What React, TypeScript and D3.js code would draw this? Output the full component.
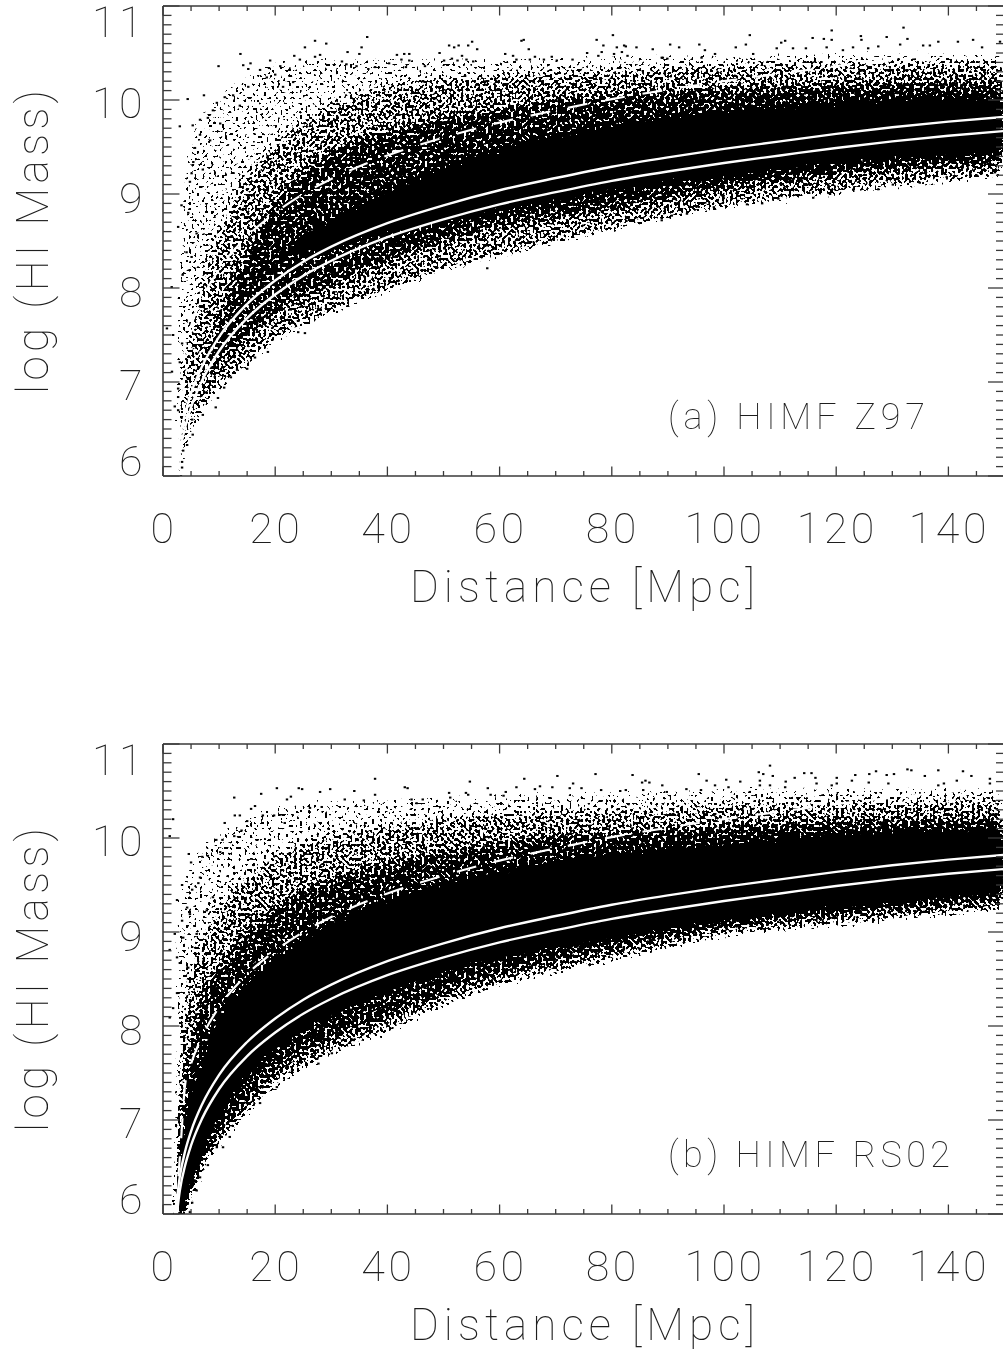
import React from "react";
import * as d3 from "d3";

// Curves (distance in Mpc, log HI mass)
const curveDistance = [2.2, 3, 4, 5, 7, 10, 15, 20, 25, 30, 40, 50, 60, 70, 80, 90, 100, 110, 120, 130, 140, 150];
const curveUpper = [6.0, 6.4, 6.68, 6.88, 7.17, 7.48, 7.83, 8.08, 8.28, 8.44, 8.69, 8.88, 9.04, 9.17, 9.29, 9.39, 9.48, 9.56, 9.64, 9.71, 9.77, 9.82];
const curveLower = [5.85, 6.25, 6.53, 6.73, 7.02, 7.33, 7.68, 7.93, 8.13, 8.29, 8.54, 8.73, 8.89, 9.02, 9.14, 9.24, 9.33, 9.41, 9.49, 9.56, 9.62, 9.67];
const curveDashed = [6.0, 6.6, 7.4, 7.6, 7.89, 8.2, 8.55, 8.8, 9.0, 9.16, 9.41, 9.6, 9.76, 9.89, 10.01, 10.11, 10.2, 10.28, 10.36, 10.43, 10.49, 10.55];

// Density-band edges of the point cloud
const bandDistance = [2, 3, 5, 7, 10, 15, 20, 30, 40, 50, 60, 80, 100, 120, 150];

const aLow = [5.5, 5.9, 6.38, 6.62, 6.87, 7.14, 7.4, 7.7, 7.93, 8.15, 8.3, 8.58, 8.82, 8.97, 9.17];
const aSparseTop = [7.9, 9.0, 9.7, 9.9, 10.1, 10.28, 10.43, 10.47, 10.47, 10.47, 10.47, 10.5, 10.52, 10.53, 10.53];
const aMediumTop = [5.8, 6.6, 7.5, 8.1, 8.6, 9.2, 9.55, 9.95, 10.14, 10.22, 10.26, 10.32, 10.36, 10.38, 10.4];
const aDenseTop = [5.7, 6.2, 6.7, 7.0, 7.6, 8.4, 8.9, 9.45, 9.65, 9.8, 9.9, 10.05, 10.1, 10.15, 10.2];
const aDenseLow = [5.7, 6.2, 6.7, 7.0, 7.2, 7.5, 7.75, 8.05, 8.3, 8.5, 8.65, 8.85, 9.05, 9.2, 9.35];
const aSolidTop = [6.2, 6.5, 7.0, 7.3, 7.6, 8.05, 8.3, 8.7, 9.0, 9.25, 9.45, 9.7, 9.85, 9.95, 10.0];
const aSolidLow = [6.2, 6.5, 7.0, 7.3, 7.6, 8.05, 8.3, 8.45, 8.6, 8.72, 8.85, 9.05, 9.2, 9.35, 9.45];

const bLow = [5.5, 5.72, 6.08, 6.36, 6.68, 7.0, 7.3, 7.66, 7.9, 8.18, 8.39, 8.66, 8.92, 9.04, 9.2];
const bSparseTop = [9.1, 9.5, 9.8, 9.95, 10.08, 10.25, 10.37, 10.43, 10.45, 10.47, 10.49, 10.52, 10.55, 10.57, 10.57];
const bMediumTop = [7.0, 8.0, 8.6, 8.95, 9.25, 9.6, 9.8, 10.02, 10.12, 10.2, 10.25, 10.3, 10.35, 10.38, 10.4];
const bDenseTop = [6.3, 7.0, 7.8, 8.3, 8.6, 9.0, 9.25, 9.55, 9.72, 9.85, 9.95, 10.05, 10.12, 10.17, 10.2];
const bDenseLow = [5.6, 5.9, 6.25, 6.55, 6.85, 7.2, 7.5, 7.85, 8.1, 8.35, 8.55, 8.82, 9.05, 9.18, 9.33];
const bSolidTop = [5.9, 6.4, 7.1, 7.5, 8.0, 8.4, 8.65, 9.05, 9.3, 9.47, 9.6, 9.8, 9.9, 10.0, 10.05];
const bSolidLow = [5.8, 6.0, 6.4, 6.75, 7.1, 7.5, 7.8, 8.15, 8.4, 8.6, 8.75, 8.98, 9.15, 9.28, 9.45];

// Individual stray points
const aStray: [number, number][] = [
  [27.1,10.63],[29.1,10.6],[25.3,10.56],[28,10.48],[27.1,10.46],[13.8,10.49],[23.4,10.47],[24.4,10.43],[9.9,10.36],[14.3,10.37],
  [15.6,10.39],[15.2,10.33],[19.1,10.42],[18.9,10.34],[17.3,10.32],[20.9,10.36],[22.5,10.32],[4.4,10.01],[7.3,10.05],[3,9.72],
  [5.3,9.73],[6.6,9.63],[3.3,8.88],[2.7,8.65],[4.8,9.13],[5.1,9.22],[5.4,9.34],[1.55,8.01],[3.5,8.14],[4.2,8.38],[9.6,9.97],[8.9,9.89],
  [12.5,10.05],[11,10.03],[13.7,9.94],[15.2,10.14],[18.5,10.24],[20,10.27],[23.2,10.19],[21.4,10.14],[8,9.81],[6.6,9.79],[10.2,9.75],
  [8.4,9.57],[5.7,9.49],[7.1,9.26],[4.5,8.8],[6,8.58],[5.1,8.33],
  [132,10.77],[104.6,10.69],[119.2,10.74],[124.4,10.68],[124.5,10.64],[129,10.67],[132.7,10.65],[115.8,10.66],[117.8,10.65],[110.9,10.63],
  [110.2,10.61],[95.6,10.59],[90.4,10.59],[92,10.56],[144.4,10.64],[141.7,10.62],[138.2,10.62],[103.9,10.59],[102.1,10.56],[96.6,10.53],
  [96,10.45],[89.9,10.44],[88.9,10.45],[98.4,10.49],[105.2,10.49],[109.4,10.55],[112.3,10.55],[114.6,10.55],[119.2,10.64],[118.3,10.56],
  [121.2,10.53],[123,10.56],[125.7,10.55],[127.5,10.57],[131.4,10.59],[135.5,10.58],[136.7,10.58],[146,10.56],[149.2,10.62],
  [36.4,10.67],[35.4,10.56],[32.9,10.51],[35,10.49],[31.9,10.41],[32.7,10.38],[34.5,10.36],[36.6,10.33],[37.8,10.35],[40.3,10.39],[41.7,10.48],
  [43,10.49],[43.9,10.49],[42.5,10.43],[43.9,10.42],[43.3,10.35],[46.7,10.36],[49.3,10.5],[51,10.58],[51.9,10.56],[52.7,10.58],[54.4,10.58],
  [55.1,10.62],[56,10.54],[53.3,10.47],[50.1,10.42],[51.5,10.44],[52.5,10.42],[54.1,10.43],[55.3,10.41],[63.9,10.63],[64.3,10.64],[65.2,10.54],
  [61,10.49],[62.4,10.47],[63,10.43],[66.3,10.46],[65.4,10.43],[67.9,10.43],[69.3,10.46],[70.2,10.42],[73,10.43],[75.6,10.5],[77.3,10.64],
  [78.5,10.58],[80.2,10.69],[80.9,10.56],[82.2,10.58],[82.5,10.57],[84.4,10.56],[87.3,10.54],[81.8,10.51],[80.4,10.49],[78.2,10.51],[77.6,10.47],[82.8,10.47],[89.1,10.45],
  [88.9,8.72],[90.7,8.77],[93.4,8.79],[98.2,8.86],[104.1,8.89],[106.8,8.9],[109.7,8.95],[115.9,8.96],[118.9,9.0],[127.5,9.05],[130.1,9.1],
  [134.9,9.12],[139.7,9.18],[145,9.2],[148.3,9.23],[57.8,8.21],
  [25.3,7.52],[24.1,7.53],[18.7,7.32],[16.4,7.26],[15,7.14],[13.2,7.13],[12.1,7.05],[10.9,6.94],[9.8,6.83],[9.4,6.73],[7.1,6.65],[5.2,6.6],
  [5.3,6.44],[4.3,6.33],[3.6,6.27],[3.4,6.15],[3.4,6.09],[3.2,6.0],[2.7,6.7],[2.1,6.74],[2.7,6.84],[2.7,6.93],[1.6,7.11],[0.7,7.57],[1.8,7.5],[3.4,7.41],[3,7.21],
];
const bStray: [number, number][] = [
  [20.3,10.53],[24.2,10.53],[24.8,10.52],[29.8,10.52],[28,10.49],[17.5,10.47],[12.7,10.43],[22.1,10.41],[22.8,10.44],[28.3,10.33],[16.4,10.34],
  [15.7,10.31],[26.2,10.32],[1.8,10.2],[1.2,10.02],[12.8,10.24],[13.7,10.24],[11,10.16],[15,10.18],[17.8,10.24],[19.8,10.24],[21.7,10.16],[14,10.08],
  [9.5,9.98],[10.6,9.98],[12.7,10.02],[4.6,9.83],[5,9.74],[7,9.8],[8,9.81],[10.2,9.85],[6.6,9.58],[6.3,9.52],[3.4,9.5],[5.2,9.45],[2.5,9.34],[4.3,9.26],
  [4.8,9.19],[3.4,9.12],[2.1,8.98],[3.6,8.94],[1.2,8.81],[3,8.67],[2.5,8.73],[4.5,8.62],[2.5,8.35],[1.8,8.19],[1.2,8.09],[5.2,8.84],[6,8.98],[7.8,9.23],[8.9,9.37],
  [37.8,10.63],[34.1,10.5],[37.8,10.46],[32.4,10.41],[43.1,10.54],[43.6,10.53],[35.8,10.4],[44.3,10.41],[46.3,10.41],[45.2,10.37],[51,10.48],[51.2,10.43],
  [54.7,10.6],[54,10.48],[54.4,10.46],[57.9,10.53],[58.4,10.46],[60.7,10.45],[61.1,10.49],[63,10.54],[64.4,10.63],[66.3,10.52],[67.2,10.55],[69.4,10.54],
  [70.3,10.66],[73.1,10.58],[72.5,10.53],[74.6,10.53],[77.1,10.68],[78.1,10.51],[83.7,10.67],[85.4,10.59],[86,10.61],[86.7,10.59],[89,10.56],[85.6,10.51],
  [89.8,10.49],[81.5,10.5],[82.5,10.51],
  [108.2,10.77],[95.5,10.68],[106.2,10.7],[107,10.68],[108.7,10.66],[114.3,10.69],[115.6,10.69],[112.6,10.64],[116.3,10.64],[120.1,10.64],[123.4,10.67],
  [125.9,10.68],[127.1,10.71],[129,10.67],[130.3,10.68],[132.7,10.73],[133.4,10.72],[135.8,10.66],[138.2,10.72],[142.6,10.71],[144.1,10.66],[147.4,10.63],
  [96.9,10.61],[100.4,10.62],[102.9,10.6],[106.4,10.61],[106.4,10.56],[108.2,10.56],[111,10.6],[110.9,10.54],[116.5,10.58],[122.8,10.61],[125.8,10.59],
  [129.3,10.58],[138.2,10.56],[139.2,10.58],[141.5,10.61],[147.4,10.58],[98.4,10.56],[100.8,10.54],[93.3,10.52],[95.9,10.51],[104.6,10.49],[120.1,10.58],[119.2,10.56],
  [10.7,6.71],[9.6,6.71],[11.9,6.82],[17.3,7.18],[20.3,7.35],[23,7.52],[27.7,7.6],[30.1,7.71],[8,6.52],[6.6,6.39],[6,6.25],[5.2,6.12],[4.8,6.02],
];

const xMajor = [0, 20, 40, 60, 80, 100, 120, 140];
const xMinor = d3.range(0, 151, 5);
const yMajor = [6, 7, 8, 9, 10, 11];
const yMinor = d3.range(60, 111).map((v) => v / 10);
const yLabelDy: Record<number, number> = { 6: 0, 7: 18, 8: 19, 9: 19, 10: 18, 11: 31 };

const X0 = 163, X1 = 1004.5, H = 470;
const FONT = "Roboto, 'Open Sans', sans-serif";
const INK = "#1c1c1c";
const AXIS = "#3a3a3a";

const x = d3.scaleLinear().domain([0, 150]).range([X0, X1]);

type PanelProps = {
  id: string; top: number; label: string; labelWidth: number;
  low: number[]; sparseTop: number[]; mediumTop: number[]; denseTop: number[]; denseLow: number[]; solidTop: number[]; solidLow: number[];
  stray: [number, number][]; seed: number; solidAlpha: number;
};

function Panel({ id, top, label, labelWidth, low, sparseTop, mediumTop, denseTop, denseLow, solidTop, solidLow, stray, seed, solidAlpha }: PanelProps) {
  const bottom = top + H;
  const y = d3.scaleLinear().domain([6, 11]).range([bottom, top]);
  const band = (hi: number[], lo: number[]) =>
    d3.area<number>().x((d) => x(d)).y0((_, i) => y(lo[i])).y1((_, i) => y(hi[i])).curve(d3.curveMonotoneX)(bandDistance) || "";
  const curve = (vals: number[]) =>
    d3.line<number>().x((d) => x(d)).y((_, i) => y(vals[i])).curve(d3.curveMonotoneX)(curveDistance) || "";

  return (
    <g>
      <defs>
        <clipPath id={`clip-${id}`}><rect x={X0} y={top} width={X1 - X0} height={H} /></clipPath>
        <filter id={`grain-${id}`} filterUnits="userSpaceOnUse" x={X0 - 10} y={top - 10} width={X1 - X0 + 20} height={H + 20} colorInterpolationFilters="sRGB">
          <feGaussianBlur in="SourceAlpha" stdDeviation="4.5" result="density" />
          <feTurbulence type="fractalNoise" baseFrequency="0.36" numOctaves="1" seed={seed} result="raw" />
          <feColorMatrix in="raw" type="matrix" values="0 0 0 0 0  0 0 0 0 0  0 0 0 0 0  0 0 0 1 0" result="noise" />
          <feComposite in="density" in2="noise" operator="arithmetic" k1="0" k2="1" k3="1" k4="-1" result="sum" />
          <feComponentTransfer in="sum"><feFuncA type="linear" slope="40" intercept="0" /></feComponentTransfer>
        </filter>
      </defs>

      <g clipPath={`url(#clip-${id})`}>
        <g filter={`url(#grain-${id})`}>
          <path d={band(sparseTop, low)} fill="#000" fillOpacity={0.38} />
          <path d={band(mediumTop, low)} fill="#000" fillOpacity={0.2} />
          <path d={band(denseTop, denseLow)} fill="#000" fillOpacity={0.25} />
          <path d={band(solidTop, solidLow)} fill="#000" fillOpacity={solidAlpha} />
        </g>
        {stray.map(([d, v], i) => (
          <rect key={i} x={x(d) - 1.2} y={y(v) - 1} width={2.4} height={2} fill="#000" />
        ))}
        <path d={curve(curveDashed)} fill="none" stroke="#fff" strokeWidth={2.2} strokeDasharray="20 18" />
        <path d={curve(curveUpper)} fill="none" stroke="#fff" strokeWidth={2.4} />
        <path d={curve(curveLower)} fill="none" stroke="#fff" strokeWidth={2.4} />
      </g>

      <g stroke={AXIS} strokeWidth={1.3}>
        <line x1={X0} x2={X1} y1={top} y2={top} />
        <line x1={X0} x2={X1} y1={bottom} y2={bottom} />
        <line x1={X0} x2={X0} y1={top} y2={bottom} strokeWidth={1.6} />
        <line x1={X1} x2={X1} y1={top} y2={bottom} />
        {xMinor.map((d) => {
          const len = xMajor.includes(d) ? 9.5 : 5;
          return (
            <g key={d}>
              <line x1={x(d)} x2={x(d)} y1={bottom} y2={bottom - len} />
              <line x1={x(d)} x2={x(d)} y1={top} y2={top + len} />
            </g>
          );
        })}
        {yMinor.map((v) => {
          const len = yMajor.includes(v) ? 16.5 : 8.5;
          return (
            <g key={v}>
              <line x1={X0} x2={X0 + len} y1={y(v)} y2={y(v)} />
              <line x1={X1} x2={X1 - len} y1={y(v)} y2={y(v)} />
            </g>
          );
        })}
      </g>

      <g fontFamily={FONT} fontWeight={100} fill={INK} opacity={0.99}>
        {yMajor.map((v) => (
          <text key={v} x={146} y={y(v) + yLabelDy[v]} fontSize={43} textAnchor="end" letterSpacing={3.5}>{v}</text>
        ))}
        {xMajor.map((d) => (
          <text key={d} x={x(d) + 1} y={bottom + 67} fontSize={43} textAnchor="middle" letterSpacing={3.5}>{d}</text>
        ))}
        <text x={410} y={bottom + 126} fontSize={44} textLength={345} lengthAdjust="spacing">Distance [Mpc]</text>
        <text transform={`translate(48,${top + 388}) rotate(-90)`} fontSize={44} textLength={304} lengthAdjust="spacing">log (HI Mass)</text>
        <text x={668} y={bottom - 47} fontSize={36} textLength={labelWidth} lengthAdjust="spacing">{label}</text>
      </g>
    </g>
  );
}

export default function App() {
  return (
    <svg width={1003} height={1357} viewBox="0 0 1003 1357" style={{ position: "absolute", left: 0, top: 0, display: "block", background: "#fff" }}>
      <Panel id="a" top={6} label="(a) HIMF Z97" labelWidth={257} low={aLow} sparseTop={aSparseTop} mediumTop={aMediumTop} denseTop={aDenseTop} denseLow={aDenseLow} solidTop={aSolidTop} solidLow={aSolidLow} stray={aStray} seed={7} solidAlpha={0.68} />
      <Panel id="b" top={744} label="(b) HIMF RS02" labelWidth={282} low={bLow} sparseTop={bSparseTop} mediumTop={bMediumTop} denseTop={bDenseTop} denseLow={bDenseLow} solidTop={bSolidTop} solidLow={bSolidLow} stray={bStray} seed={23} solidAlpha={0.95} />
    </svg>
  );
}
